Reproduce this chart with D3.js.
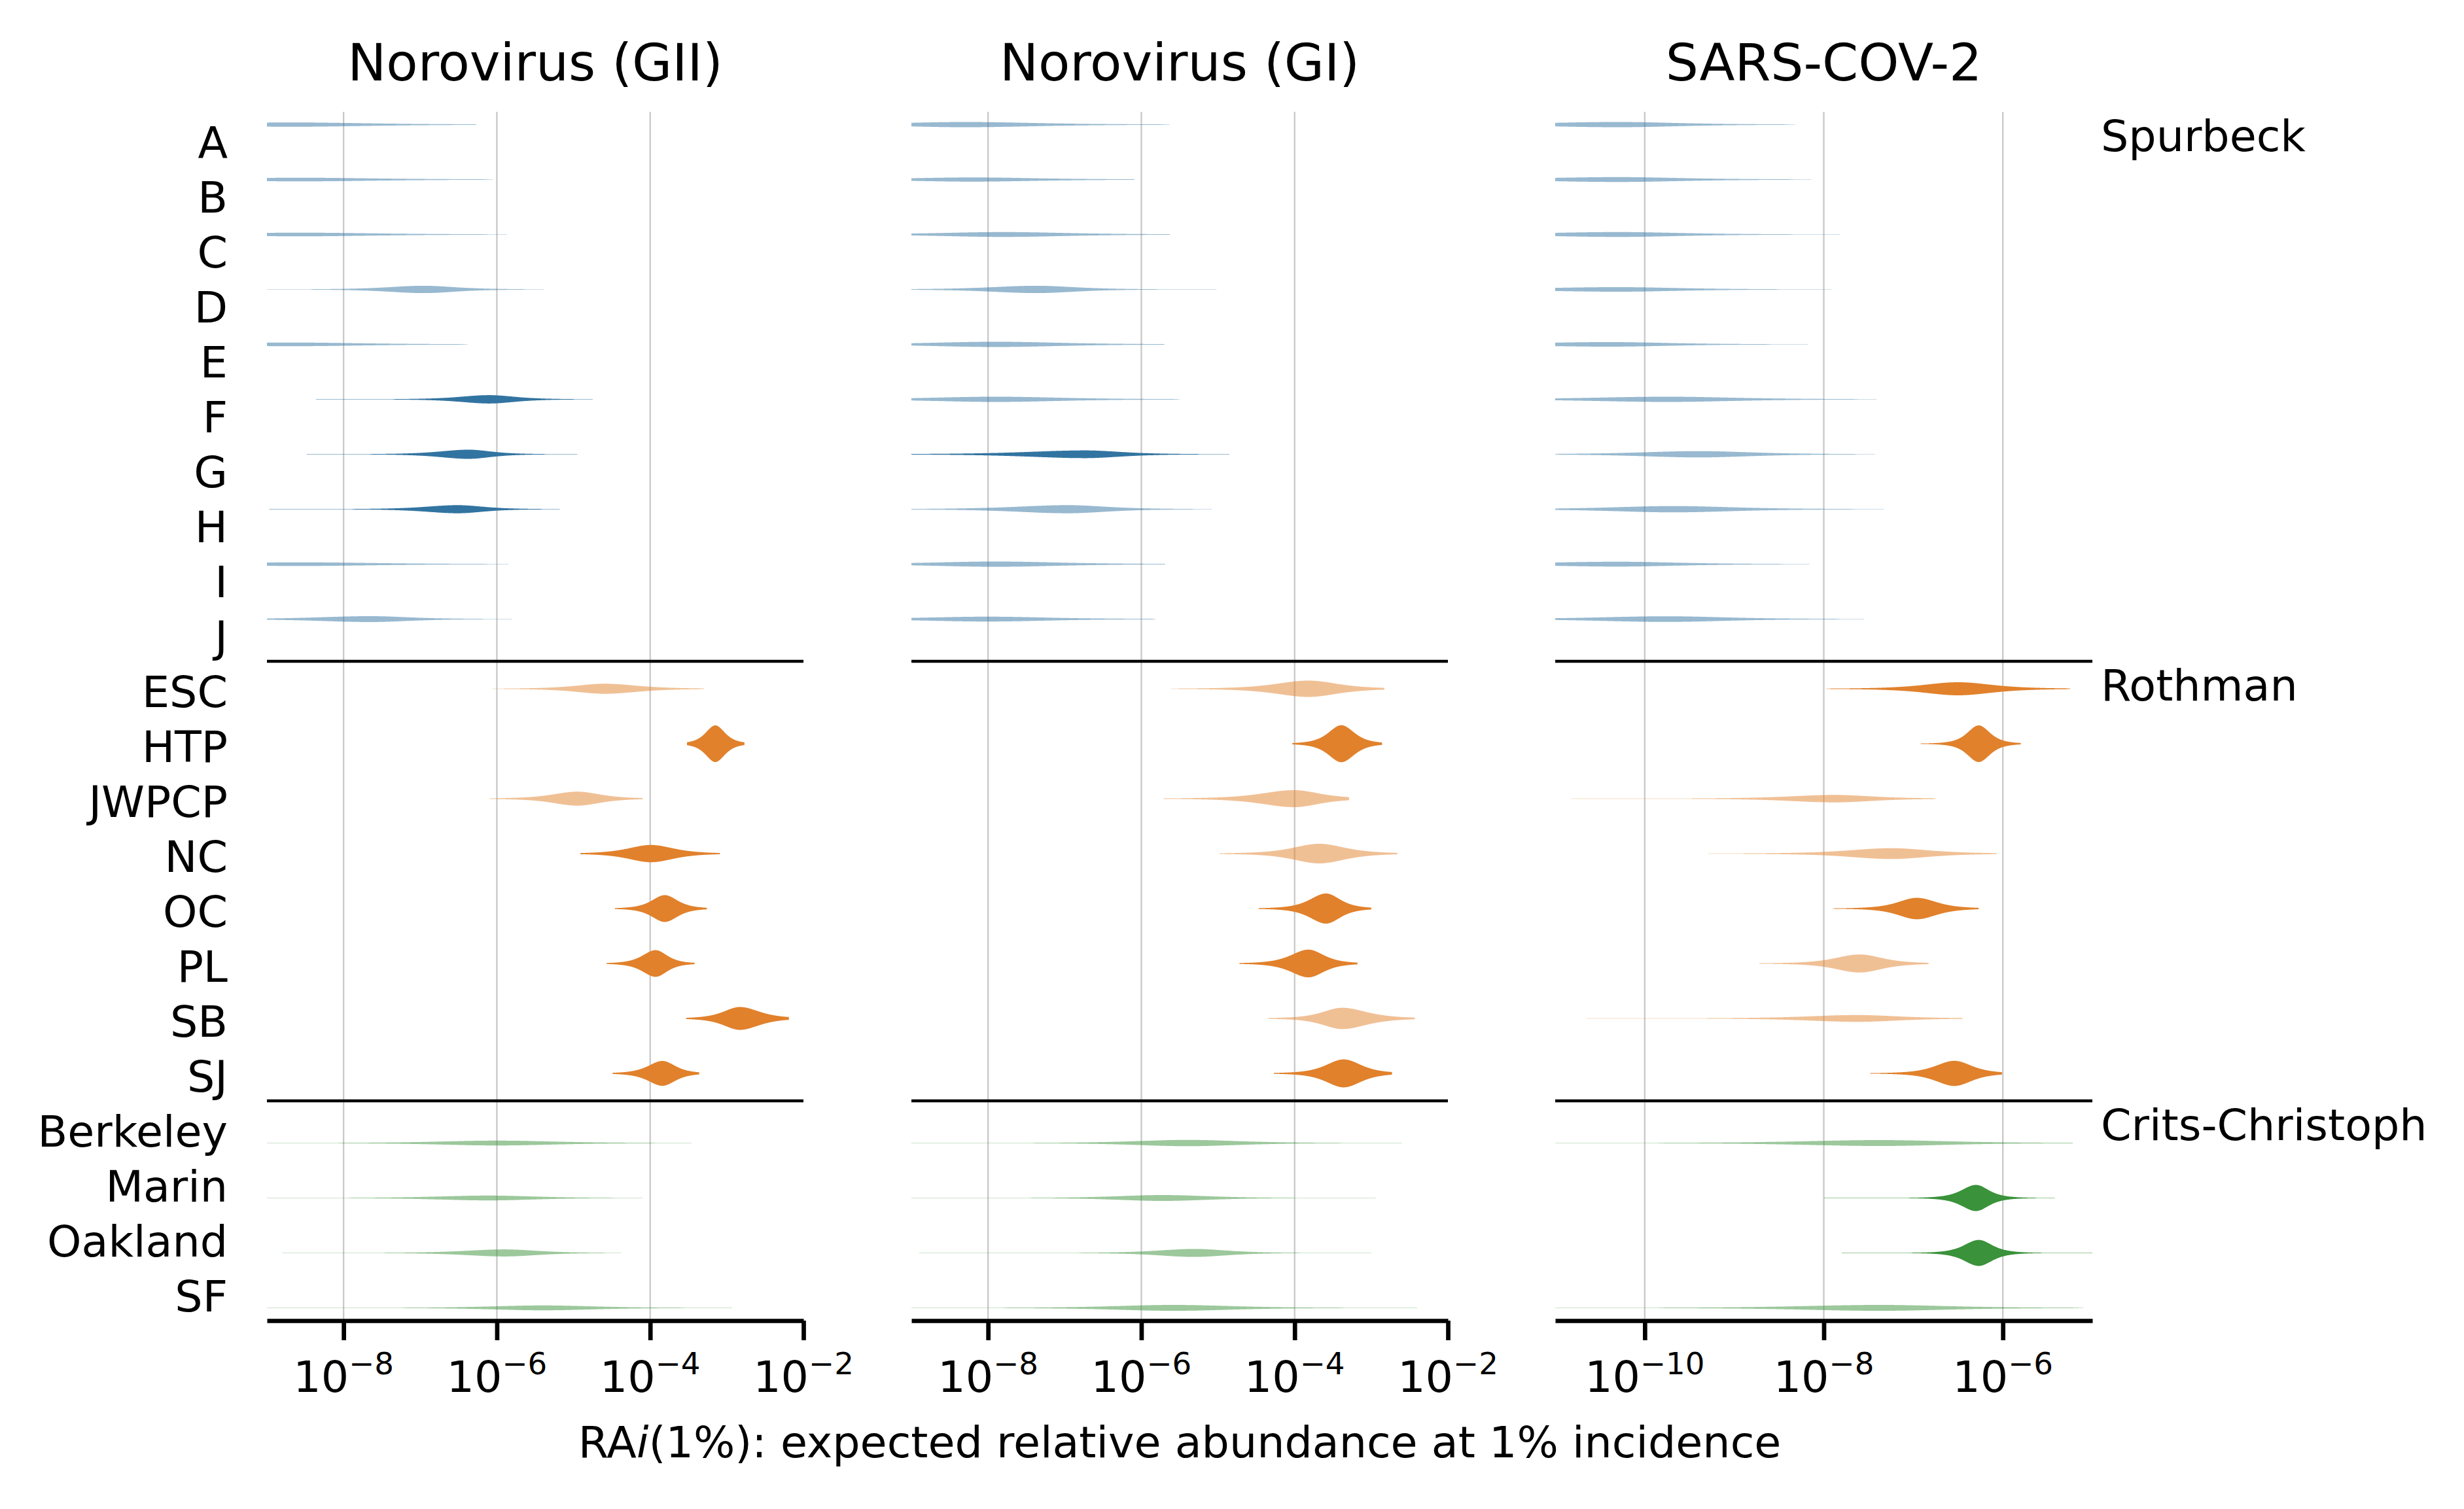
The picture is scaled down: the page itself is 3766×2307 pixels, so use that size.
<!DOCTYPE html>
<html>
<head>
<meta charset="utf-8">
<script src="https://cdn.jsdelivr.net/npm/d3@7"></script>
<style>
  html, body { margin: 0; padding: 0; background: #ffffff; }
  svg { display: block; }
  text { font-family: "DejaVu Sans", sans-serif; fill: #000; }
</style>
</head>
<body>
<script>
// ---------------- data ----------------
const rowNames = ["A","B","C","D","E","F","G","H","I","J",
  "ESC","HTP","JWPCP","NC","OC","PL","SB","SJ",
  "Berkeley","Marin","Oakland","SF"];
const studyNames = ["Spurbeck","Rothman","Crits-Christoph"];
const rowStudy = [0,0,0,0,0,0,0,0,0,0, 1,1,1,1,1,1,1,1, 2,2,2,2];

const panelTitles = ["Norovirus (GII)","Norovirus (GI)","SARS-COV-2"];
const panelLimits = [[1e-9,1e-2],[1e-9,1e-2],[1e-11,1e-5]];
const panelTicks = [[1e-8,1e-6,1e-4,1e-2],[1e-8,1e-6,1e-4,1e-2],[1e-10,1e-8,1e-6]];
const xLabelMain = "RA";
const xLabelItalic = "i";
const xLabelRest = "(1%): expected relative abundance at 1% incidence";

// log10 mode, lower / upper extent, left / right half-width-at-half-max (decades),
// peak density (arbitrary units, 42 = half a row), strong (1 = solid colour, 0 = faded)
const giiMode    = [-8.7,-8.6,-8.6,-6.96,-8.7,-6.10,-6.37,-6.51,-8.6,-7.65, -4.59,-3.15,-4.95,-3.99,-3.81,-3.93,-2.83,-3.84, -6.0,-6.1,-5.9,-5.4];
const giiLow     = [-12,-12,-12,-12,-12,-8.36,-8.48,-8.97,-12,-12, -6.06,-3.52,-6.09,-4.91,-4.46,-4.57,-3.53,-4.49, -12,-12,-8.8,-12];
const giiHigh    = [-6.27,-6.05,-5.87,-5.39,-6.38,-4.75,-4.95,-5.18,-5.85,-5.80, -3.30,-2.77,-4.10,-3.09,-3.26,-3.42,-2.19,-3.36, -3.46,-4.1,-4.38,-2.93];
const giiSpreadL = [1.0,1.0,1.0,0.55,1.0,0.45,0.45,0.5,1.0,0.8, 0.45,0.15,0.38,0.35,0.2,0.2,0.25,0.22, 0.9,0.8,0.6,0.8];
const giiSpreadR = [1.2,1.2,1.2,0.5,1.1,0.4,0.35,0.4,1.2,0.6, 0.5,0.15,0.35,0.35,0.2,0.18,0.3,0.2, 0.9,0.7,0.5,0.8];
const giiDensity = [3.3,2.8,2.8,5.6,2.8,6.4,7.0,6.2,2.8,4.5, 7.7,28,10.7,13.2,20.5,20.4,17.5,19, 3.7,3.7,5.4,3.7];
const giiStrong  = [0,0,0,0,0,1,1,1,0,0, 0,1,0,1,1,1,1,1, 0,0,0,0];

const giMode    = [-8.3,-8.2,-7.8,-7.37,-7.9,-7.9,-6.73,-6.96,-7.9,-8.0, -3.82,-3.39,-4.01,-3.68,-3.59,-3.82,-3.38,-3.36, -5.40,-5.72,-5.31,-5.58];
const giLow     = [-12,-12,-12,-12,-12,-12,-12,-12,-12,-12, -5.61,-4.03,-5.71,-4.98,-4.47,-4.72,-4.35,-4.27, -12,-12,-8.9,-12];
const giHigh    = [-5.63,-6.09,-5.63,-5.02,-5.70,-5.5,-4.85,-5.08,-5.69,-5.82, -2.83,-2.86,-3.29,-2.66,-3.0,-3.18,-2.43,-2.73, -2.60,-2.94,-3.0,-2.4];
const giSpreadL = [1.0,1.0,1.0,0.7,1.0,1.0,0.9,0.8,1.0,1.0, 0.5,0.2,0.5,0.4,0.25,0.27,0.3,0.27, 0.8,0.7,0.55,0.9];
const giSpreadR = [1.1,1.0,1.0,0.6,1.0,1.0,0.55,0.6,1.0,0.95, 0.45,0.2,0.4,0.4,0.22,0.24,0.38,0.27, 0.8,0.7,0.5,0.9];
const giDensity = [4.0,3.2,3.7,5.6,4.0,4.0,5.9,6.2,4.0,3.7, 12.5,28.3,13,15,23,21.2,16.3,21.4, 4.8,4.5,6.1,4.5];
const giStrong  = [0,0,0,0,0,0,1,0,0,0, 0,1,0,0,1,1,0,1, 0,0,0,0];

const sarsMode    = [-10.3,-10.3,-10.3,-10.3,-10.4,-9.75,-9.40,-9.68,-10.3,-9.76, -6.50,-6.27,-7.88,-7.25,-6.96,-7.60,-7.63,-6.54, -7.38,-6.30,-6.27,-7.38];
const sarsLow     = [-14,-14,-14,-14,-14,-14,-14,-14,-14,-14, -7.97,-6.92,-10.82,-9.29,-7.90,-8.72,-10.65,-7.48, -14,-8.0,-7.8,-14];
const sarsHigh    = [-8.32,-8.14,-7.82,-7.92,-8.18,-7.41,-7.43,-7.33,-8.16,-7.55, -5.25,-5.80,-6.75,-6.07,-6.27,-6.83,-6.45,-6.01, -5.22,-5.42,-4.9,-5.1];
const sarsSpreadL = [1.0,1.0,1.0,1.0,1.0,1.0,0.75,0.8,1.0,0.9, 0.45,0.15,0.6,0.55,0.25,0.32,0.65,0.25, 1.0,0.19,0.19,1.0];
const sarsSpreadR = [0.8,0.85,0.85,0.8,0.8,0.9,0.7,0.8,0.8,0.8, 0.45,0.15,0.5,0.5,0.26,0.3,0.55,0.23, 0.9,0.17,0.18,0.9];
const sarsDensity = [4.0,3.7,3.7,3.5,3.5,4.0,4.8,4.8,3.7,4.3, 10,28,5.7,8.3,16.4,13.8,5.2,19.2, 4.5,20,19.9,4.5];
const sarsStrong  = [0,0,0,0,0,0,0,0,0,0, 1,1,0,0,1,0,0,1, 0,1,1,0];

// ---------------- layout / style ----------------
const W = 3766, H = 2307;
const panelX = [[408,1228],[1393,2213],[2377,3198]];
const plotTop = 171, plotBottom = 2019;
const studyColors = ["#3274a1","#e1812c","#3a923a"];
const fontMain = 66.7, fontTitle = 79;

const panelData = [
  {mode: giiMode, low: giiLow, high: giiHigh, sl: giiSpreadL, sr: giiSpreadR, dens: giiDensity, strong: giiStrong},
  {mode: giMode, low: giLow, high: giHigh, sl: giSpreadL, sr: giSpreadR, dens: giDensity, strong: giStrong},
  {mode: sarsMode, low: sarsLow, high: sarsHigh, sl: sarsSpreadL, sr: sarsSpreadR, dens: sarsDensity, strong: sarsStrong}
];

const svg = d3.select("body").append("svg")
  .attr("width", W).attr("height", H)
  .attr("viewBox", `0 0 ${W} ${H}`);
svg.append("rect").attr("width", W).attr("height", H).attr("fill", "#fff");

const y = d3.scaleBand().domain(rowNames).range([plotTop, plotBottom]).paddingInner(0).paddingOuter(0);
const bw = y.bandwidth();
const wScale = d3.scaleLinear().domain([0, 42]).range([0, bw / 2]);
const dodge = bw * 0.268;

// t-like profile (nu = 3) of a violin in log10 space
function profile(t, m, sl, sr) {
  const d = t - m;
  const s = (d < 0 ? sl : sr) / 1.1142;
  const u = d / s;
  return Math.pow(1 + u * u / 3, -2);
}

panelData.forEach((pd, p) => {
  const [x0, x1] = panelX[p];
  const x = d3.scaleLog().domain(panelLimits[p]).range([x0, x1]);
  const g = svg.append("g");
  const lmin = Math.log10(panelLimits[p][0]), lmax = Math.log10(panelLimits[p][1]);

  // grid
  g.append("g").selectAll("line")
    .data(panelTicks[p].filter(t => x(t) < x1 - 2))
    .join("line")
    .attr("x1", d => x(d)).attr("x2", d => x(d))
    .attr("y1", plotTop).attr("y2", plotBottom)
    .attr("stroke", "#c8c8c8").attr("stroke-width", 2.3);

  // clip
  const cid = "clip" + p;
  svg.append("clipPath").attr("id", cid).append("rect")
    .attr("x", x0).attr("y", plotTop).attr("width", x1 - x0).attr("height", plotBottom - plotTop);

  const vg = g.append("g").attr("clip-path", `url(#${cid})`);
  rowNames.forEach((r, i) => {
    const cy = y(r) + bw / 2 + dodge * (rowStudy[i] - 1);
    const a = Math.max(pd.low[i], lmin - 0.3);
    const b = Math.min(pd.high[i], lmax + 0.3);
    const pts = d3.range(0, 401).map(k => a + (b - a) * k / 400);
    const area = d3.area()
      .x(t => x(Math.pow(10, t)))
      .y0(t => cy - Math.max(wScale(pd.dens[i] * profile(t, pd.mode[i], pd.sl[i], pd.sr[i])), 0.35))
      .y1(t => cy + Math.max(wScale(pd.dens[i] * profile(t, pd.mode[i], pd.sl[i], pd.sr[i])), 0.35));
    vg.append("path")
      .attr("d", area(pts))
      .attr("fill", studyColors[rowStudy[i]])
      .attr("fill-opacity", pd.strong[i] ? 1 : 0.5);
  });

  // separators between studies
  [rowNames[10], rowNames[18]].forEach(r => {
    g.append("line")
      .attr("x1", x0).attr("x2", x1)
      .attr("y1", y(r)).attr("y2", y(r))
      .attr("stroke", "#000").attr("stroke-width", 4.5);
  });

  // bottom axis
  const axis = d3.axisBottom(x).tickValues(panelTicks[p]).tickSize(30).tickSizeOuter(0).tickFormat("");
  const ag = g.append("g").attr("transform", `translate(0,${plotBottom})`).call(axis);
  ag.select(".domain").attr("stroke", "#000").attr("stroke-width", 6.7);
  ag.selectAll(".tick line").attr("stroke", "#000").attr("stroke-width", 6.7);

  // tick labels 10^n
  const tl = g.append("g").selectAll("text")
    .data(panelTicks[p]).join("text")
    .attr("x", d => x(d)).attr("y", 2128)
    .attr("text-anchor", "middle")
    .style("font-size", fontMain + "px");
  tl.append("tspan").text("10");
  tl.append("tspan").attr("dy", -27).style("font-size", (fontMain * 0.7) + "px")
    .text(d => "\u2212" + Math.round(-Math.log10(d)));

  // title
  g.append("text").attr("x", (x0 + x1) / 2).attr("y", 122.6)
    .attr("text-anchor", "middle").style("font-size", fontTitle + "px")
    .text(panelTitles[p]);

  // row labels on first panel
  if (p === 0) {
    g.append("g").selectAll("text").data(rowNames).join("text")
      .attr("x", 348).attr("y", d => y(d) + bw / 2 + 28)
      .attr("text-anchor", "end").style("font-size", fontMain + "px")
      .text(d => d);
  }
  // study labels on last panel
  if (p === 2) {
    studyNames.forEach((s, k) => {
      const first = rowNames[rowStudy.indexOf(k)];
      g.append("text").attr("x", 3211).attr("y", y(first) + bw / 2 + 18)
        .style("font-size", fontMain + "px").text(s);
    });
  }
  // x label centred under the middle panel
  if (p === 1) {
    const xl = g.append("text").attr("x", (x0 + x1) / 2).attr("y", 2228)
      .attr("text-anchor", "middle").style("font-size", fontMain + "px");
    xl.append("tspan").text(xLabelMain);
    xl.append("tspan").style("font-style", "italic").text(xLabelItalic);
    xl.append("tspan").text(xLabelRest);
  }
});
</script>
</body>
</html>
